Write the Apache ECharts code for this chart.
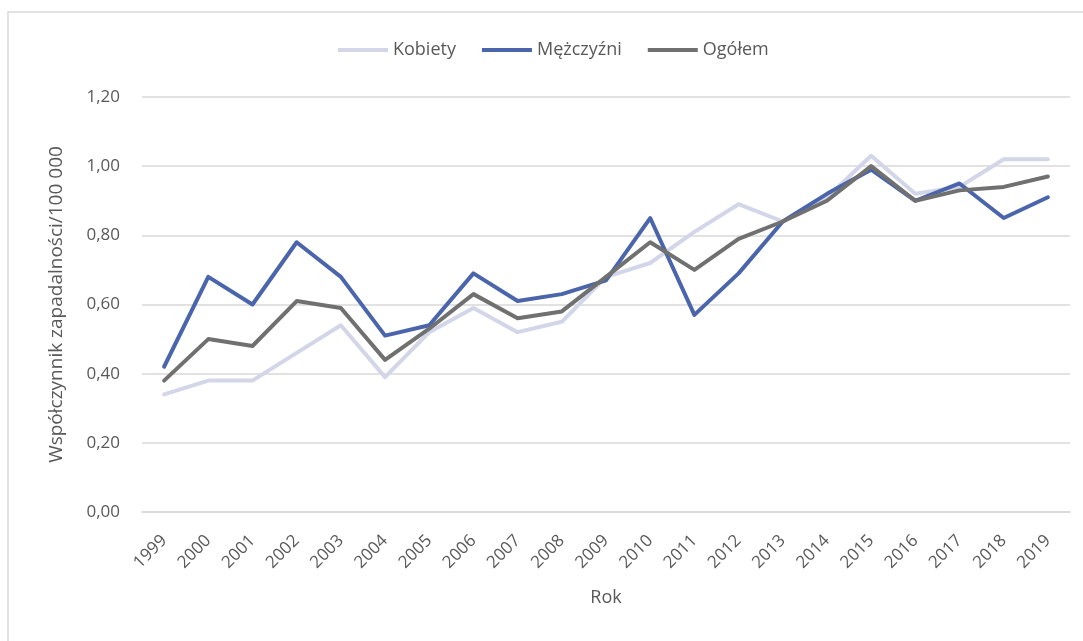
<!DOCTYPE html>
<html>
<head>
<meta charset="utf-8">
<script src="https://cdn.jsdelivr.net/npm/echarts@6/dist/echarts.min.js"></script>
<style>
  html, body { margin: 0; padding: 0; background: #ffffff; }
  #chart { width: 1083px; height: 641px; }
</style>
</head>
<body>
<div id="chart"></div>
<script>
// Roczne współczynniki zapadalności na 100 000 mieszkańców
const years = ['1999','2000','2001','2002','2003','2004','2005','2006','2007','2008','2009',
               '2010','2011','2012','2013','2014','2015','2016','2017','2018','2019'];
const kobiety    = [0.34,0.38,0.38,0.46,0.54,0.39,0.52,0.59,0.52,0.55,0.68,0.72,0.81,0.89,0.84,0.91,1.03,0.92,0.94,1.02,1.02];
const mezczyzni  = [0.42,0.68,0.60,0.78,0.68,0.51,0.54,0.69,0.61,0.63,0.67,0.85,0.57,0.69,0.84,0.92,0.99,0.90,0.95,0.85,0.91];
const ogolem     = [0.38,0.50,0.48,0.61,0.59,0.44,0.53,0.63,0.56,0.58,0.68,0.78,0.70,0.79,0.84,0.90,1.00,0.90,0.93,0.94,0.97];
const yTickLabels = ['0,00','0,20','0,40','0,60','0,80','1,00','1,20'];
const seriesNames = ['Kobiety', 'Mężczyźni', 'Ogółem'];

const textColor = '#595959';
const fontFamily = '"Open Sans", "DejaVu Sans", sans-serif';

const chart = echarts.init(document.getElementById('chart'), null, { renderer: 'canvas' });

function lineSeries(name, data, color) {
  return {
    name: name,
    type: 'line',
    data: data,
    symbol: 'none',
    smooth: false,
    lineStyle: { color: color, width: 4, join: 'round', cap: 'round' },
    itemStyle: { color: color },
    emphasis: { disabled: true }
  };
}

chart.setOption({
  animation: false,
  backgroundColor: '#ffffff',
  textStyle: { fontFamily: fontFamily },
  graphic: [{
    type: 'rect',
    shape: { x: 8, y: 12, width: 1090, height: 650 },
    style: { fill: 'none', stroke: '#d9d9d9', lineWidth: 1.5 },
    silent: true
  }],
  legend: {
    top: 36,
    left: 333,
    itemWidth: 50,
    itemHeight: 4,
    itemGap: 26,
    icon: 'rect',
    textStyle: { color: textColor, fontSize: 18, fontFamily: fontFamily },
    data: seriesNames
  },
  grid: { left: 142, right: 13, top: 97, bottom: 129 },
  xAxis: {
    type: 'category',
    data: years,
    boundaryGap: true,
    name: 'Rok',
    nameLocation: 'middle',
    nameGap: 77,
    nameTextStyle: { color: textColor, fontSize: 18, fontFamily: fontFamily, verticalAlign: 'top' },
    axisLine: { show: true, lineStyle: { color: '#d9d9d9', width: 1.5 } },
    axisTick: { show: false },
    axisLabel: { color: textColor, fontSize: 17, rotate: 45, margin: 26, interval: 0, fontFamily: fontFamily }
  },
  yAxis: {
    type: 'value',
    min: 0,
    max: 1.2,
    interval: 0.2,
    name: 'Współczynnik zapadalności/100 000',
    nameLocation: 'middle',
    nameGap: 76,
    nameTextStyle: { color: textColor, fontSize: 19, fontFamily: fontFamily },
    axisLine: { show: false },
    axisTick: { show: false },
    splitLine: { lineStyle: { color: '#d9d9d9', width: 1.5 } },
    axisLabel: {
      color: textColor, fontSize: 17, margin: 22, fontFamily: fontFamily,
      formatter: function (v) { return yTickLabels[Math.round(v / 0.2)]; }
    }
  },
  series: [
    lineSeries(seriesNames[0], kobiety, '#d3d6e9'),
    lineSeries(seriesNames[1], mezczyzni, '#4a65ac'),
    lineSeries(seriesNames[2], ogolem, '#707070')
  ]
});
</script>
</body>
</html>
